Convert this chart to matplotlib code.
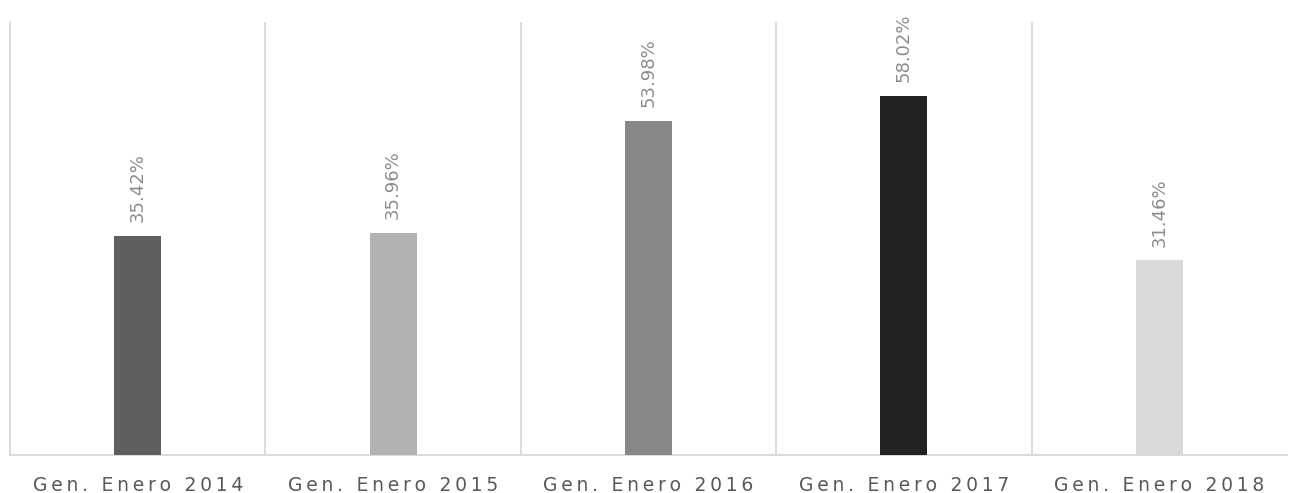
import numpy as np
import matplotlib.pyplot as plt

# Data
categories = ['Gen. Enero 2014', 'Gen. Enero 2015', 'Gen. Enero 2016',
              'Gen. Enero 2017', 'Gen. Enero 2018']
values = [35.42, 35.96, 53.98, 58.02, 31.46]
colors = ['#5f5f5f', '#b2b2b2', '#888888', '#222222', '#d9d9d9']


def spaced(s):
    # mimic the letter spacing of the original labels
    return '\u2009'.join(s)


fig = plt.figure(figsize=(12.89, 4.93), dpi=100)
ax = fig.add_axes([10 / 1289, 38 / 493, 1277 / 1289, 433 / 493])

x = np.arange(len(categories))
bars = ax.bar(x, values, width=0.184, color=colors, zorder=3)

for b, v in zip(bars, values):
    ax.annotate(f'{v:.2f}%', (b.get_x() + b.get_width() / 2, v),
                xytext=(0, 10), textcoords='offset points',
                rotation=90, ha='center', va='bottom',
                fontsize=13, color='#8c8c8c')

ax.set_xlim(-0.5, len(categories) - 0.5)
ax.set_ylim(0, 70)
ax.set_yticks([])
ax.set_xticks(x)
ax.set_xticklabels([spaced(c) for c in categories], fontsize=13.5, color='#595959')
ax.tick_params(axis='x', length=0, pad=15)

# category separators
ax.set_xticks(x[:-1] + 0.5, minor=True)
ax.tick_params(axis='x', which='minor', length=0)
ax.grid(True, which='minor', axis='x', color='#d9d9d9', linewidth=1.3)

for side in ['top', 'right']:
    ax.spines[side].set_visible(False)
for side in ['left', 'bottom']:
    ax.spines[side].set_color('#d9d9d9')
    ax.spines[side].set_linewidth(1.3)

fig.savefig('out.png', dpi=100)
